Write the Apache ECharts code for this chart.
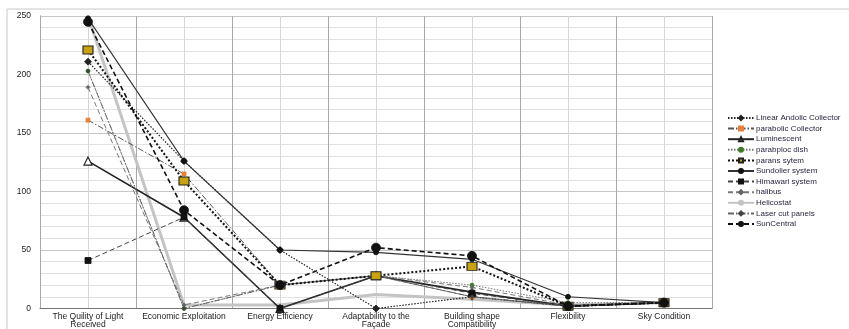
<!DOCTYPE html>
<html>
<head>
<meta charset="utf-8">
<script src="https://cdn.jsdelivr.net/npm/echarts@6/dist/echarts.min.js"></script>
<style>
  html, body { margin: 0; padding: 0; background: #fff; }
  #chart { width: 849px; height: 329px; }
</style>
</head>
<body>
<div id="chart"></div>
<script>
// Criteria along the horizontal axis
const categories = [
  'The Quility of Light\nReceived',
  'Economic Exploitation',
  'Energy Efficiency',
  'Adaptability to the\nFaçade',
  'Building shape\nCompatibility',
  'Flexibility',
  'Sky Condition'
];

// Scores per daylighting system
const linearAndolic   = [211, 126, 50, 0, 10, 2, 5];
const parabolicColl   = [161, 115, 20, 28, 10, 2, 5];
const luminescent     = [126, 78, 0, 28, 14, 2, 5];
const parabplocDish   = [203, 0, 20, 28, 20, 5, 5];
const paransSytem     = [221, 109, 20, 28, 36, 2, 5];
const sundolier       = [248, 126, 50, 48, 42, 10, 5];
const himawari        = [41, 78, 0, 28, 13, 2, 5];
const halibus         = [189, 3, 20, 28, 18, 3, 5];
const helicostat      = [250, 3, 3, 12, 8, 3, 5];
const laserCutPanels  = [203, 0, 20, 28, 10, 2, 5];
const sunCentral      = [245, 84, 20, 52, 45, 2, 5];

const yTicks = [0, 50, 100, 150, 200, 250];

const DOT = [1.5, 1.5];
const DASH = [5, 3];
const DASHDOT = [6, 2, 1.5, 2];
const FONT = 'Liberation Sans, Arial, sans-serif';

function line(name, data, opt) {
  return {
    name: name,
    type: 'line',
    data: data,
    xAxisIndex: 0,
    yAxisIndex: 0,
    symbol: opt.symbol || 'none',
    symbolSize: opt.size || 5,
    showSymbol: !!opt.symbol,
    itemStyle: {
      color: opt.fill || opt.color,
      borderColor: opt.border || opt.fill || opt.color,
      borderWidth: opt.borderWidth || 0.8
    },
    lineStyle: { color: opt.color, width: opt.width || 1, type: opt.dash || 'solid' },
    emphasis: { disabled: true },
    animation: false,
    z: opt.z || 3
  };
}

const series = [
  line('Linear Andolic Collector', linearAndolic, { color: '#222', dash: DOT, width: 1.2, symbol: 'diamond', size: 7 }),
  line('parabolic Collector', parabolicColl, { color: '#555', dash: DASHDOT, width: 1, symbol: 'rect', size: 4, fill: '#e8803a' }),
  line('Luminescent', luminescent, { color: '#222', width: 1.6, symbol: 'triangle', size: 8, fill: '#fff', border: '#222', borderWidth: 1.2 }),
  line('parabploc dish', parabplocDish, { color: '#777', dash: DOT, width: 1, symbol: 'circle', size: 4, fill: '#3f7a2a' }),
  line('parans sytem', paransSytem, { color: '#111', dash: [2, 2], width: 2, symbol: 'rect', size: [10, 8], fill: '#c9a211', border: '#222', borderWidth: 1, z: 5 }),
  line('Sundolier system', sundolier, { color: '#333', width: 1.1, symbol: 'circle', size: 5, fill: '#111' }),
  line('Himawari system', himawari, { color: '#444', dash: DASH, width: 1, symbol: 'rect', size: 6, fill: '#111' }),
  line('halibus', halibus, { color: '#777', dash: DASH, width: 1, symbol: 'diamond', size: 4, fill: '#666' }),
  line('Helicostat', helicostat, { color: '#c4c4c4', width: 3, z: 2 }),
  line('Laser cut panels', laserCutPanels, { color: '#666', dash: DASHDOT, width: 1, symbol: 'diamond', size: 4, fill: '#444' }),
  line('SunCentral', sunCentral, { color: '#111', dash: DASH, width: 1.6, symbol: 'circle', size: 9, fill: '#111', z: 6 })
];

const chart = echarts.init(document.getElementById('chart'), null, { renderer: 'canvas' });
chart.setOption({
  backgroundColor: '#fff',
  animation: false,
  graphic: [{
    type: 'rect',
    shape: { x: 7, y: 9, width: 900, height: 400 },
    style: { fill: 'none', stroke: '#c8c8c8', lineWidth: 1 },
    silent: true,
    z: -10
  }],
  grid: { left: 40, right: 137, top: 16, bottom: 18, containLabel: false },
  legend: {
    orient: 'vertical',
    left: 727,
    top: 114,
    padding: 0,
    itemWidth: 26,
    itemHeight: 5,
    itemGap: 2.6,
    textStyle: { fontSize: 8, lineHeight: 8, color: '#2a2540', fontFamily: FONT, padding: [0, 0, 0, -3] },
    data: series.map(s => s.name)
  },
  xAxis: [{
    type: 'category',
    data: categories,
    boundaryGap: true,
    axisLine: { lineStyle: { color: '#777', width: 1 } },
    axisTick: { show: false },
    axisLabel: {
      interval: 0,
      fontSize: 8.5,
      color: '#222',
      lineHeight: 8,
      margin: 4,
      fontFamily: FONT
    },
    splitLine: { show: true, lineStyle: { color: '#a8a8a8', width: 1 } },
    z: 2
  }, {
    // finer vertical rules through the middle of each criterion
    type: 'value',
    min: 0,
    max: 14,
    interval: 1,
    show: true,
    axisLine: { show: false },
    axisTick: { show: false },
    axisLabel: { show: false },
    splitLine: { show: true, lineStyle: { color: '#d6d6d6', width: 1 } },
    z: 1
  }],
  yAxis: {
    type: 'value',
    min: yTicks[0],
    max: yTicks[yTicks.length - 1],
    interval: 50,
    axisLine: { show: true, lineStyle: { color: '#777', width: 1 } },
    axisTick: { show: false },
    axisLabel: { fontSize: 8.5, color: '#222', margin: 9, fontFamily: FONT },
    splitLine: { show: true, lineStyle: { color: '#c6c6c6', width: 1 } },
    minorTick: { show: false, splitNumber: 5 },
    minorSplitLine: { show: true, lineStyle: { color: '#e2e2e2', width: 1 } }
  },
  series: series
});
</script>
</body>
</html>
